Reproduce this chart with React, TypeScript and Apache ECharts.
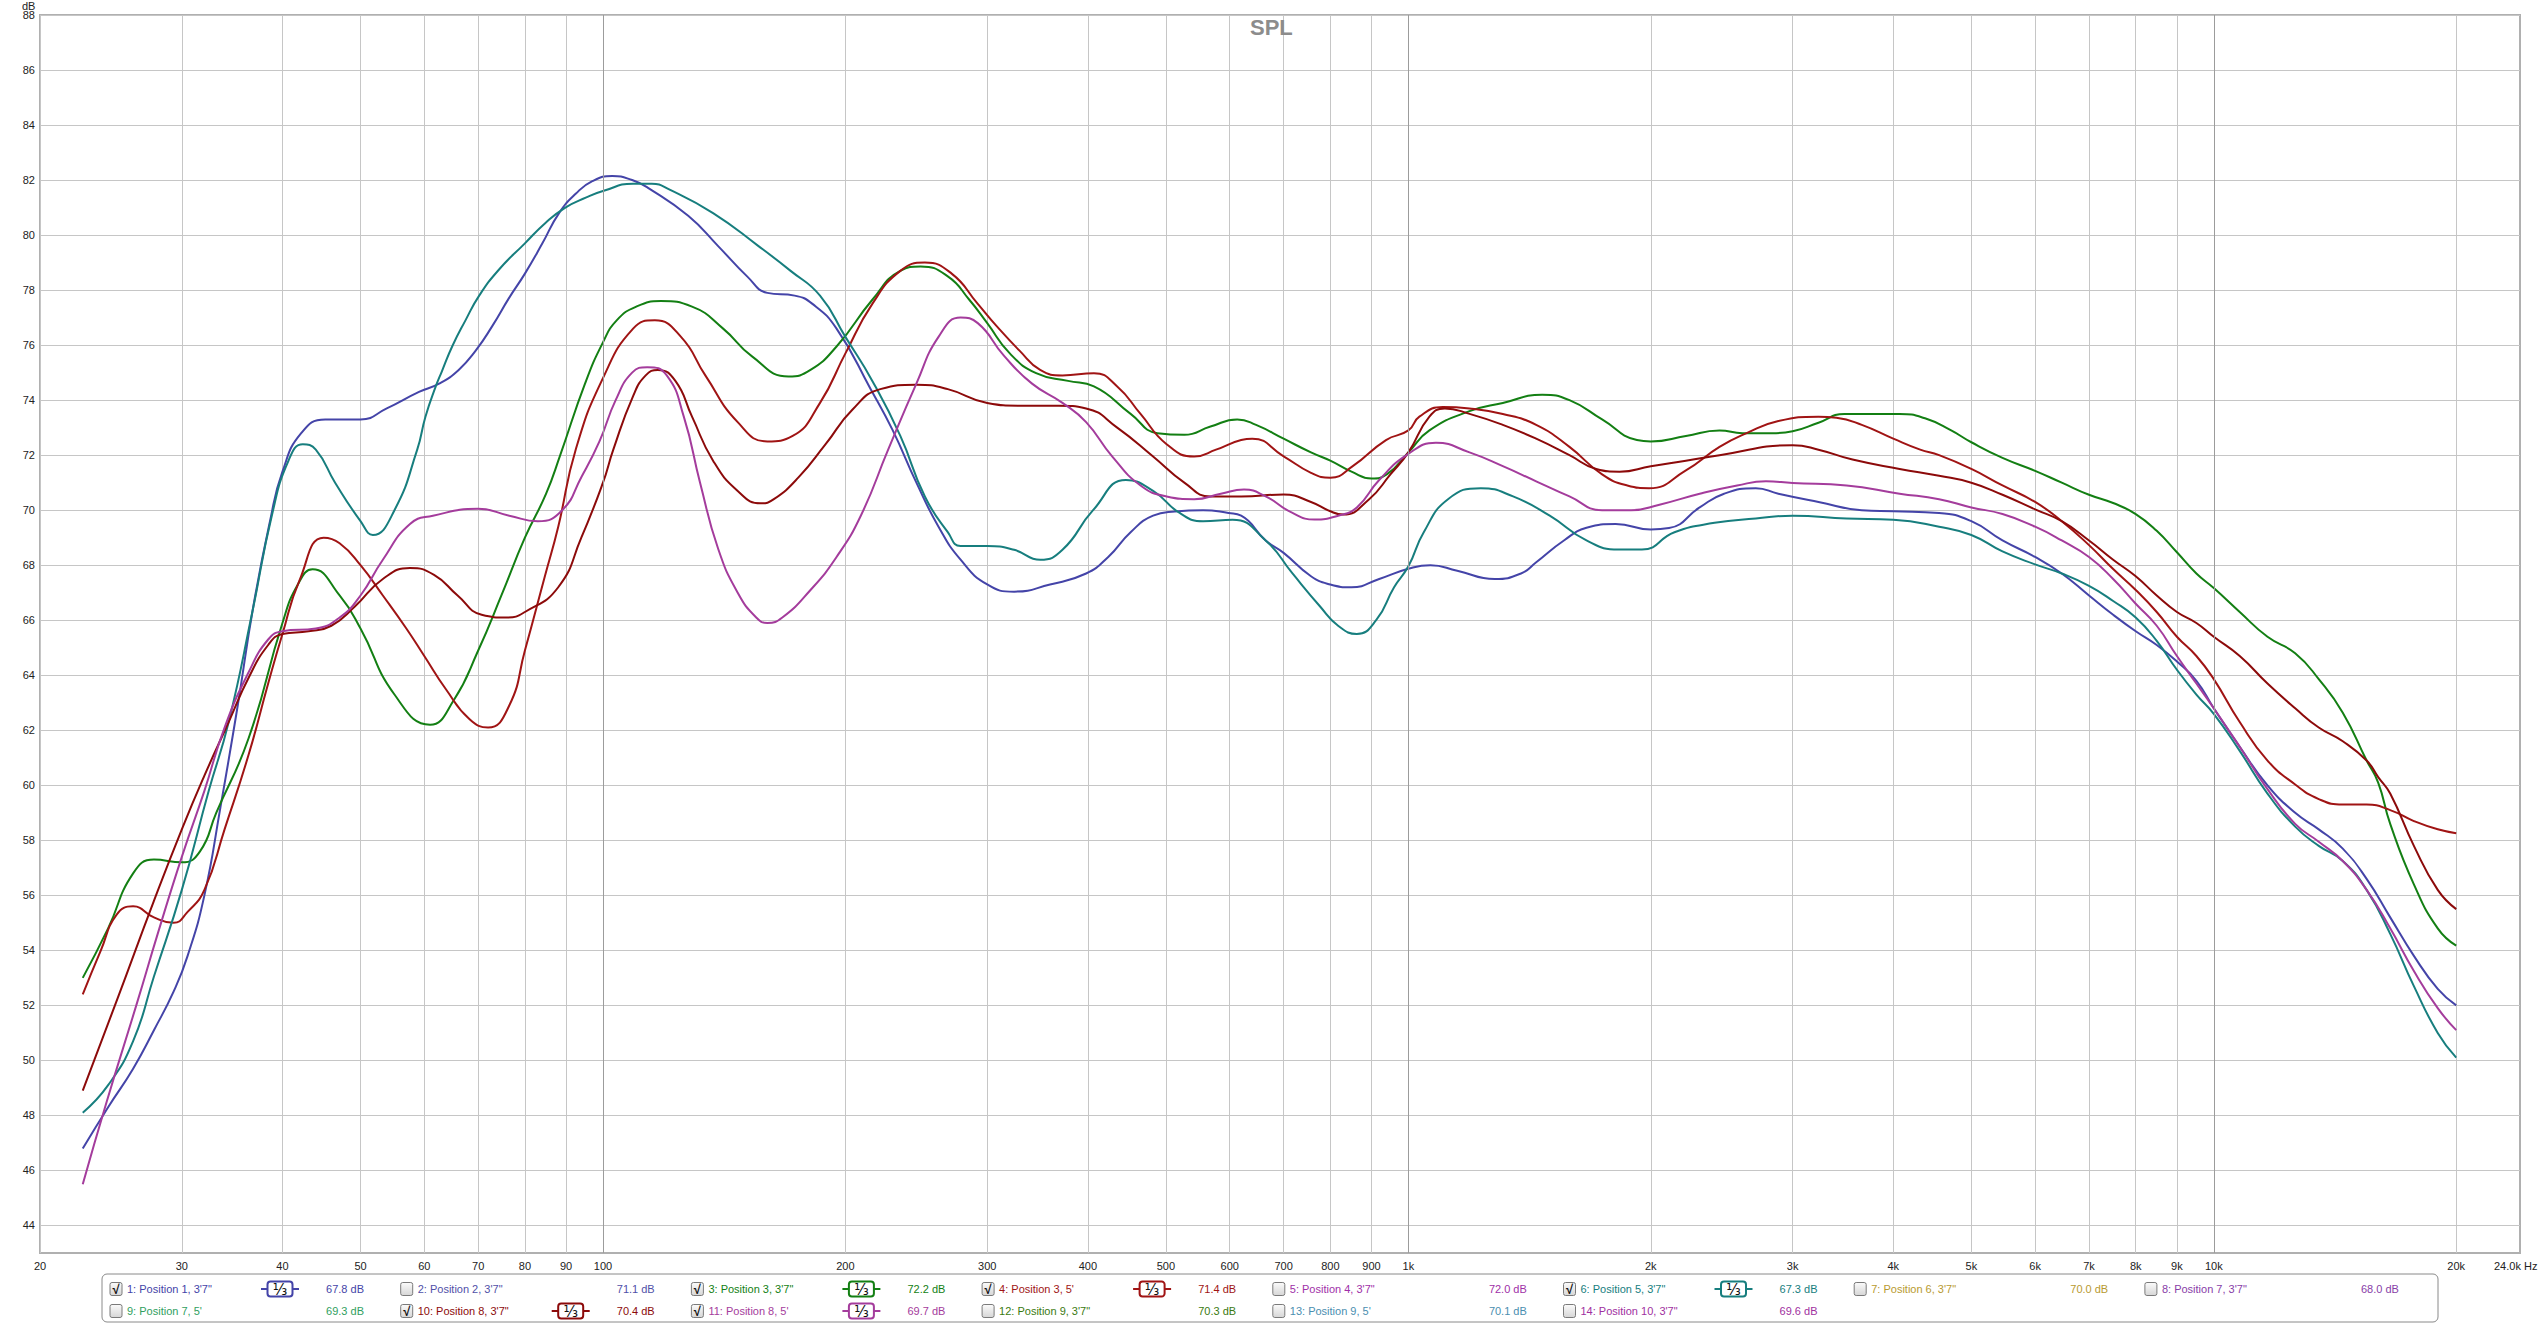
import { useEffect, useRef } from "react";
import * as echarts from "echarts";

const FONT = '"Liberation Sans", Arial, sans-serif';

// ---------- axes ----------
const freqMin = 20;
const freqMax = 24000;
const splMin = 43;
const splMax = 88;
const freqTicks = [20, 30, 40, 50, 60, 70, 80, 90, 100, 200, 300, 400, 500, 600, 700, 800, 900, 1000, 2000, 3000, 4000, 5000, 6000, 7000, 8000, 9000, 10000, 20000];
const decadeLines = [100, 1000, 10000];
const splTicks = [44, 46, 48, 50, 52, 54, 56, 58, 60, 62, 64, 66, 68, 70, 72, 74, 76, 78, 80, 82, 84, 86, 88];

// ---------- measured curves [Hz, dB] ----------
const pos1_3ft7: [number, number][] = [
  [22.6, 46.8], [24.3, 48.3], [26.1, 49.7], [27.7, 51.1], [29.3, 52.5], [30.5, 53.8], [32, 56.0], [33.5, 59.2], [35.2, 62.9], [36.8, 66.5], [38.6, 69.6], [40, 71.4], [42.2, 72.8], [45.2, 73.3], [50, 73.3], [53.9, 73.7], [59.1, 74.3], [62.6, 74.6], [66.2, 75.1], [69.5, 75.8], [72.9, 76.7], [76.4, 77.7], [80, 78.6], [84.1, 79.7], [88.2, 80.8], [92.5, 81.5], [97, 81.96], [102.7, 82.15], [108.7, 82.0], [114, 81.7], [127.6, 80.7], [139, 79.6], [151, 78.5], [160, 77.9], [173, 77.8], [182, 77.5], [195, 76.6], [215, 74.4], [229, 72.9], [245, 71.0], [261, 69.4], [278, 68.2], [300, 67.3], [324, 67.04], [359, 67.3], [398, 67.7], [424, 68.3], [452, 69.2], [482, 69.8], [513, 69.95], [556, 70.0], [598, 69.9], [620, 69.8], [665, 68.9], [700, 68.45], [757, 67.6], [800, 67.3], [850, 67.2], [920, 67.5], [1000, 67.87], [1065, 68.0], [1150, 67.8], [1280, 67.5], [1380, 67.7], [1440, 68.1], [1560, 68.9], [1664, 69.36], [1809, 69.5], [2000, 69.3], [2107, 69.35], [2300, 70.1], [2466, 70.6], [2700, 70.8], [2880, 70.6], [3230, 70.3], [3656, 70.0], [4000, 69.96], [4560, 69.9], [5000, 69.6], [5466, 68.9], [6000, 68.3], [6475, 67.7], [7000, 66.9], [7500, 66.2], [8000, 65.6], [8495, 65.1], [9000, 64.5], [9515, 63.8], [10000, 62.8], [10770, 61.4], [11660, 60.0], [12620, 59.0], [13500, 58.4], [14460, 57.7], [15480, 56.6], [16560, 55.2], [17720, 53.8], [18970, 52.6], [20000, 52.0],
];

const pos3_3ft7: [number, number][] = [
  [22.6, 53.0], [24.3, 54.8], [26.1, 56.8], [27.7, 57.3], [30, 57.2], [31.6, 57.6], [33.1, 59.0], [36.3, 61.7], [40, 65.9], [41.8, 67.3], [43.6, 67.85], [47.1, 66.9], [50, 65.7], [55.1, 63.3], [61, 62.2], [65.3, 63.1], [70, 64.9], [74.8, 66.9], [80, 69.0], [85, 70.6], [88.5, 72.0], [95, 74.6], [100, 76.1], [104, 76.9], [110, 77.4], [118, 77.6], [129, 77.4], [141, 76.6], [153, 75.6], [170, 74.86], [181, 75.1], [195, 75.95], [216, 77.65], [234, 78.7], [248, 78.86], [268, 78.5], [285, 77.65], [300, 76.8], [320, 75.7], [345, 74.98], [378, 74.7], [407, 74.5], [452, 73.5], [488, 72.8], [527, 72.74], [568, 73.04], [613, 73.3], [647, 73.1], [700, 72.6], [757, 72.1], [800, 71.8], [850, 71.4], [900, 71.15], [940, 71.3], [1000, 72.1], [1062, 72.9], [1191, 73.6], [1310, 73.9], [1466, 74.2], [1585, 74.0], [1740, 73.3], [1922, 72.55], [2000, 72.5], [2211, 72.7], [2434, 72.9], [2600, 72.8], [2830, 72.8], [3000, 72.87], [3230, 73.18], [3480, 73.5], [3800, 73.5], [4073, 73.5], [4380, 73.34], [4720, 72.9], [5000, 72.47], [5466, 71.9], [6000, 71.43], [6475, 71.0], [7000, 70.56], [7500, 70.26], [8000, 69.86], [8495, 69.25], [9000, 68.47], [9515, 67.7], [10000, 67.17], [10770, 66.3], [11660, 65.4], [12620, 64.8], [13500, 63.86], [14460, 62.64], [15480, 60.9], [16000, 60.1], [16560, 58.6], [17720, 56.4], [18970, 54.8], [20000, 54.17],
];

const pos3_5ft: [number, number][] = [
  [22.6, 52.4], [23.8, 54.0], [24.9, 55.3], [26.1, 55.6], [27.7, 55.2], [29.3, 55.0], [30.5, 55.4], [32, 56.2], [33.9, 58.4], [36.3, 61.1], [38.4, 63.7], [40, 65.5], [42, 67.45], [45, 69.0], [47.1, 68.8], [50, 68.0], [53.3, 66.9], [57, 65.7], [60, 64.7], [63.8, 63.5], [68.3, 62.4], [72, 62.1], [76.5, 62.9], [80, 64.9], [84.7, 67.6], [88, 69.4], [92.5, 72.2], [100, 74.8], [109, 76.6], [116, 76.9], [125, 76.3], [134, 74.9], [147, 73.2], [160, 72.5], [172, 72.7], [186, 73.9], [200, 75.7], [216, 77.5], [234, 78.7], [251, 79.0], [271, 78.6], [292, 77.5], [308, 76.7], [329, 75.8], [349, 75.1], [372, 74.9], [407, 74.98], [435, 74.5], [465, 73.5], [501, 72.4], [542, 71.95], [577, 72.2], [620, 72.55], [640, 72.6], [700, 71.96], [757, 71.36], [800, 71.18], [853, 71.6], [938, 72.55], [1000, 72.9], [1032, 73.4], [1103, 73.75], [1191, 73.7], [1310, 73.5], [1441, 73.1], [1585, 72.3], [1740, 71.3], [1870, 70.9], [1990, 70.8], [2211, 71.45], [2434, 72.3], [2630, 72.8], [2880, 73.24], [3230, 73.4], [3400, 73.36], [3656, 73.1], [4000, 72.6], [4320, 72.2], [4560, 72.0], [5000, 71.5], [5466, 70.9], [6000, 70.3], [6475, 69.6], [7000, 68.73], [7500, 67.86], [8000, 67.1], [8495, 66.3], [9000, 65.4], [9515, 64.7], [10000, 63.86], [10770, 62.3], [11660, 60.9], [12620, 60.03], [13500, 59.5], [14460, 59.3], [15480, 59.3], [16560, 59.1], [17720, 58.7], [18970, 58.4], [20000, 58.26],
];

const pos5_3ft7: [number, number][] = [
  [22.6, 48.1], [24.3, 49.1], [26.1, 50.7], [27.7, 53.05], [30, 56.2], [32.4, 59.8], [34.3, 62.3], [36.7, 66.3], [38.8, 69.8], [40.7, 71.8], [42.4, 72.4], [44, 72.2], [46.5, 71.0], [50, 69.6], [51.8, 69.1], [55.1, 70.0], [58.8, 72.2], [60.2, 73.4], [62, 74.5], [63.1, 75.05], [65, 75.96], [67.5, 76.9], [70.2, 77.8], [74.3, 78.75], [80, 79.7], [84.9, 80.45], [89.8, 81.0], [95.2, 81.36], [100, 81.6], [109, 81.87], [115, 81.87], [121, 81.65], [137, 80.8], [156, 79.6], [171, 78.7], [186, 77.8], [200, 76.3], [216, 74.7], [234, 72.7], [251, 70.5], [268, 69.2], [278, 68.7], [300, 68.7], [324, 68.56], [349, 68.2], [372, 68.56], [406, 70.0], [446, 71.1], [482, 70.7], [520, 69.9], [556, 69.6], [605, 69.65], [665, 68.9], [718, 67.7], [777, 66.5], [818, 65.8], [863, 65.5], [912, 66.0], [960, 67.2], [1000, 67.96], [1045, 69.2], [1120, 70.4], [1230, 70.8], [1349, 70.5], [1498, 69.8], [1664, 68.9], [1824, 68.57], [1950, 68.57], [2140, 69.2], [2400, 69.54], [2700, 69.7], [3000, 69.8], [3500, 69.7], [4000, 69.65], [4560, 69.4], [5000, 69.1], [5466, 68.5], [6000, 68.03], [6475, 67.7], [7000, 67.25], [7500, 66.7], [8000, 66.1], [8495, 65.25], [9000, 64.2], [9515, 63.3], [10000, 62.6], [10770, 61.25], [11660, 59.7], [12620, 58.5], [13500, 57.8], [14460, 57.25], [15480, 56.2], [16560, 54.6], [17720, 52.7], [18970, 51.0], [20000, 50.1],
];

const pos8_3ft7: [number, number][] = [
  [22.6, 48.9], [25, 52.3], [27.7, 55.8], [30, 58.4], [32, 60.35], [34.3, 62.3], [36.3, 63.9], [38.4, 65.1], [40, 65.5], [43.1, 65.6], [46, 65.8], [49.2, 66.5], [53.3, 67.5], [57.6, 67.9], [61.7, 67.65], [66, 66.9], [70.7, 66.2], [76, 66.1], [80, 66.3], [88, 67.2], [94, 69.0], [100, 71.0], [103, 72.2], [109, 74.15], [113, 74.9], [117, 75.1], [123, 74.7], [129, 73.4], [137, 71.8], [147, 70.7], [157, 70.25], [163, 70.4], [175, 71.2], [189, 72.4], [204, 73.65], [221, 74.4], [245, 74.56], [268, 74.4], [300, 73.9], [329, 73.8], [368, 73.8], [398, 73.7], [435, 73.0], [482, 71.95], [527, 71.0], [568, 70.5], [620, 70.5], [700, 70.57], [757, 70.3], [800, 69.96], [830, 69.84], [894, 70.4], [950, 71.3], [1000, 72.1], [1062, 73.4], [1110, 73.7], [1191, 73.5], [1310, 73.1], [1441, 72.6], [1585, 72.0], [1711, 71.5], [1829, 71.4], [2000, 71.6], [2211, 71.8], [2434, 72.0], [3000, 72.36], [3230, 72.2], [3560, 71.84], [4073, 71.5], [4560, 71.25], [5000, 71.0], [5466, 70.56], [6000, 70.03], [6475, 69.6], [7000, 68.9], [7500, 68.2], [8000, 67.6], [8495, 66.9], [9000, 66.3], [9515, 65.9], [10000, 65.4], [10770, 64.7], [11660, 63.7], [12620, 62.8], [13500, 62.1], [14460, 61.6], [15480, 60.9], [16000, 60.3], [16560, 59.7], [17720, 57.8], [18970, 56.2], [20000, 55.5],
];

const pos8_5ft: [number, number][] = [
  [22.6, 45.5], [24.2, 48.5], [26.4, 52.1], [28, 54.6], [30, 57.4], [32, 59.8], [33.9, 62.1], [36.3, 64.1], [38.4, 65.3], [40, 65.6], [44, 65.7], [47.1, 66.1], [50, 66.9], [53.3, 68.2], [57.6, 69.5], [61.5, 69.8], [70, 70.05], [76.5, 69.8], [83, 69.6], [89, 70.0], [94, 71.2], [99, 72.5], [103.7, 74.0], [108.7, 75.0], [113.5, 75.2], [120, 74.9], [126, 73.4], [132, 71.0], [139, 68.6], [147, 67.0], [155, 66.1], [160, 65.9], [167, 66.1], [181, 67.1], [195, 68.3], [209, 69.8], [226, 72.2], [245, 74.6], [261, 76.3], [278, 77.0], [292, 76.8], [315, 75.6], [341, 74.6], [372, 73.9], [398, 73.2], [429, 71.95], [465, 70.9], [501, 70.5], [542, 70.4], [585, 70.6], [625, 70.75], [665, 70.5], [718, 69.9], [765, 69.66], [818, 69.8], [863, 70.1], [920, 71.1], [1000, 72.05], [1082, 72.45], [1191, 72.1], [1310, 71.6], [1441, 71.05], [1585, 70.5], [1740, 70.0], [1890, 70.0], [2050, 70.2], [2300, 70.6], [2560, 70.9], [2780, 71.05], [3000, 70.99], [3500, 70.9], [4073, 70.6], [4560, 70.4], [5000, 70.1], [5466, 69.86], [6000, 69.4], [6475, 68.9], [7000, 68.3], [7500, 67.5], [8000, 66.6], [8495, 65.8], [9000, 64.7], [9515, 63.7], [10000, 62.8], [10770, 61.4], [11660, 59.86], [12620, 58.6], [13500, 57.95], [14460, 57.25], [15480, 56.2], [16560, 54.8], [17720, 53.25], [18970, 51.9], [20000, 51.1],
];

// ---------- legend ----------
const legendNames = [
  "1: Position 1, 3'7\"", "2: Position 2, 3'7\"", "3: Position 3, 3'7\"", "4: Position 3, 5'",
  "5: Position 4, 3'7\"", "6: Position 5, 3'7\"", "7: Position 6, 3'7\"", "8: Position 7, 3'7\"",
  "9: Position 7, 5'", "10: Position 8, 3'7\"", "11: Position 8, 5'", "12: Position 9, 3'7\"",
  "13: Position 9, 5'", "14: Position 10, 3'7\"",
];
const legendLevels = ["67.8 dB", "71.1 dB", "72.2 dB", "71.4 dB", "72.0 dB", "67.3 dB", "70.0 dB", "68.0 dB", "69.3 dB", "70.4 dB", "69.7 dB", "70.3 dB", "70.1 dB", "69.6 dB"];
const legendChecked = [true, false, true, true, false, true, false, false, false, true, true, false, false, false];
const legendColors = ["#4444a8", "#5050a8", "#137f13", "#a01414", "#a030a8", "#177e7e", "#b89a30", "#8840a8", "#30a060", "#8c0a0a", "#a43c9c", "#3a7a10", "#4a8eb0", "#a030a0"];

// which measurement each drawn curve belongs to
const curveSets: { idx: number; data: [number, number][] }[] = [
  { idx: 0, data: pos1_3ft7 },
  { idx: 2, data: pos3_3ft7 },
  { idx: 3, data: pos3_5ft },
  { idx: 5, data: pos5_3ft7 },
  { idx: 9, data: pos8_3ft7 },
  { idx: 10, data: pos8_5ft },
];

function fmtFreq(v: number): string {
  if (v >= 1000) return v / 1000 + "k";
  return String(v);
}

function txt(x: number, y: number, text: string, fill: string, align: string, size = 11, extra: any = {}) {
  return {
    type: "text",
    x,
    y,
    silent: true,
    style: {
      text,
      fill,
      font: `${extra.fontWeight === "bold" ? "bold " : ""}${size}px ${FONT}`,
      textAlign: align,
      textVerticalAlign: "middle",
      align,
      verticalAlign: "middle",
    },
  };
}

function buildLegend(): any[] {
  const els: any[] = [];
  els.push({
    type: "rect",
    silent: true,
    shape: { x: 102, y: 1274, width: 2336, height: 48, r: 5 },
    style: { fill: "#ffffff", stroke: "#8a8a8a", lineWidth: 1 },
  });
  const colW = 290.7;
  for (let i = 0; i < legendNames.length; i++) {
    const row = i < 8 ? 0 : 1;
    const col = i < 8 ? i : i - 8;
    const x0 = 110 + colW * col;
    const yc = row === 0 ? 1289 : 1311;
    const color = legendColors[i];
    els.push({
      type: "rect",
      silent: true,
      shape: { x: x0, y: yc - 6.5, width: 12, height: 13, r: 2 },
      style: {
        fill: new echarts.graphic.LinearGradient(0, 0, 0, 1, [
          { offset: 0, color: "#fbfbfb" },
          { offset: 1, color: "#d6d6d6" },
        ]),
        stroke: "#7a7a7a",
        lineWidth: 1,
      },
    });
    if (legendChecked[i]) {
      els.push(txt(x0 + 6, yc + 0.5, "\u221A", "#111111", "center", 13, { fontWeight: "bold" }));
      const cx = x0 + 170;
      els.push({
        type: "line",
        silent: true,
        shape: { x1: cx - 19, y1: yc, x2: cx + 19, y2: yc },
        style: { stroke: color, lineWidth: 2 },
      });
      els.push({
        type: "rect",
        silent: true,
        shape: { x: cx - 12.5, y: yc - 7.5, width: 25, height: 15, r: 3 },
        style: { fill: "#ffffff", stroke: color, lineWidth: 2 },
      });
      els.push({
        type: "text",
        x: cx,
        y: yc + 0.5,
        silent: true,
        style: {
          text: "\u2153",
          fill: "#111111",
          font: `15px "DejaVu Sans", sans-serif`,
          textAlign: "center",
          textVerticalAlign: "middle",
          align: "center",
          verticalAlign: "middle",
        },
      });
    }
    els.push(txt(x0 + 17, yc, legendNames[i], color, "left"));
    els.push(txt(x0 + 254, yc, legendLevels[i], color, "right"));
  }
  return els;
}

function buildOption(): any {
  const series: any[] = [
    {
      type: "line",
      name: "decades",
      data: [],
      z: 1,
      silent: true,
      markLine: {
        silent: true,
        symbol: "none",
        animation: false,
        label: { show: false },
        lineStyle: { color: "#9c9c9c", width: 1, type: "solid" },
        data: decadeLines.map((v) => ({ xAxis: v })),
      },
    },
  ];
  curveSets.forEach((c) => {
    series.push({
      type: "line",
      name: legendNames[c.idx],
      data: c.data,
      smooth: 0.5,
      showSymbol: false,
      symbol: "none",
      z: 3,
      lineStyle: { color: legendColors[c.idx], width: 2 },
      itemStyle: { color: legendColors[c.idx] },
    });
  });

  return {
    animation: false,
    backgroundColor: "#ffffff",
    title: {
      text: "SPL",
      left: 1245,
      top: 11,
      textStyle: { fontSize: 22, fontWeight: "bold", color: "#8c8c8c", fontFamily: FONT },
    },
    grid: {
      left: 40,
      top: 15,
      width: 2480,
      height: 1238,
      show: true,
      borderColor: "#b0b0b0",
      borderWidth: 2,
      backgroundColor: "transparent",
    },
    xAxis: {
      type: "log",
      logBase: 10,
      min: freqMin,
      max: freqMax,
      axisLine: { show: false },
      axisTick: { show: false, customValues: freqTicks },
      axisLabel: {
        customValues: freqTicks,
        formatter: (v: number) => fmtFreq(v),
        color: "#222222",
        fontSize: 11,
        fontFamily: FONT,
        margin: 7,
      },
      splitLine: { show: true, lineStyle: { color: "#c6c6c6", width: 1 } },
      minorSplitLine: { show: false },
    },
    yAxis: {
      type: "value",
      min: splMin,
      max: splMax,
      axisLine: { show: false },
      axisTick: { show: false, customValues: splTicks },
      axisLabel: {
        customValues: splTicks,
        color: "#222222",
        fontSize: 11,
        fontFamily: FONT,
        margin: 5,
      },
      splitLine: { show: true, lineStyle: { color: "#c6c6c6", width: 1 } },
    },
    graphic: [
      txt(22, 6, "dB", "#222222", "left"),
      txt(2494, 1266, "24.0k Hz", "#222222", "left"),
      ...buildLegend(),
    ],
    series,
  };
}

export default function App() {
  const ref = useRef<HTMLDivElement>(null);
  useEffect(() => {
    if (!ref.current) return;
    const chart = echarts.init(ref.current, null, { renderer: "svg" });
    chart.setOption(buildOption());
    return () => chart.dispose();
  }, []);
  return (
    <div
      ref={ref}
      style={{ position: "fixed", left: 0, top: 0, width: 2540, height: 1325, background: "#ffffff" }}
    />
  );
}
